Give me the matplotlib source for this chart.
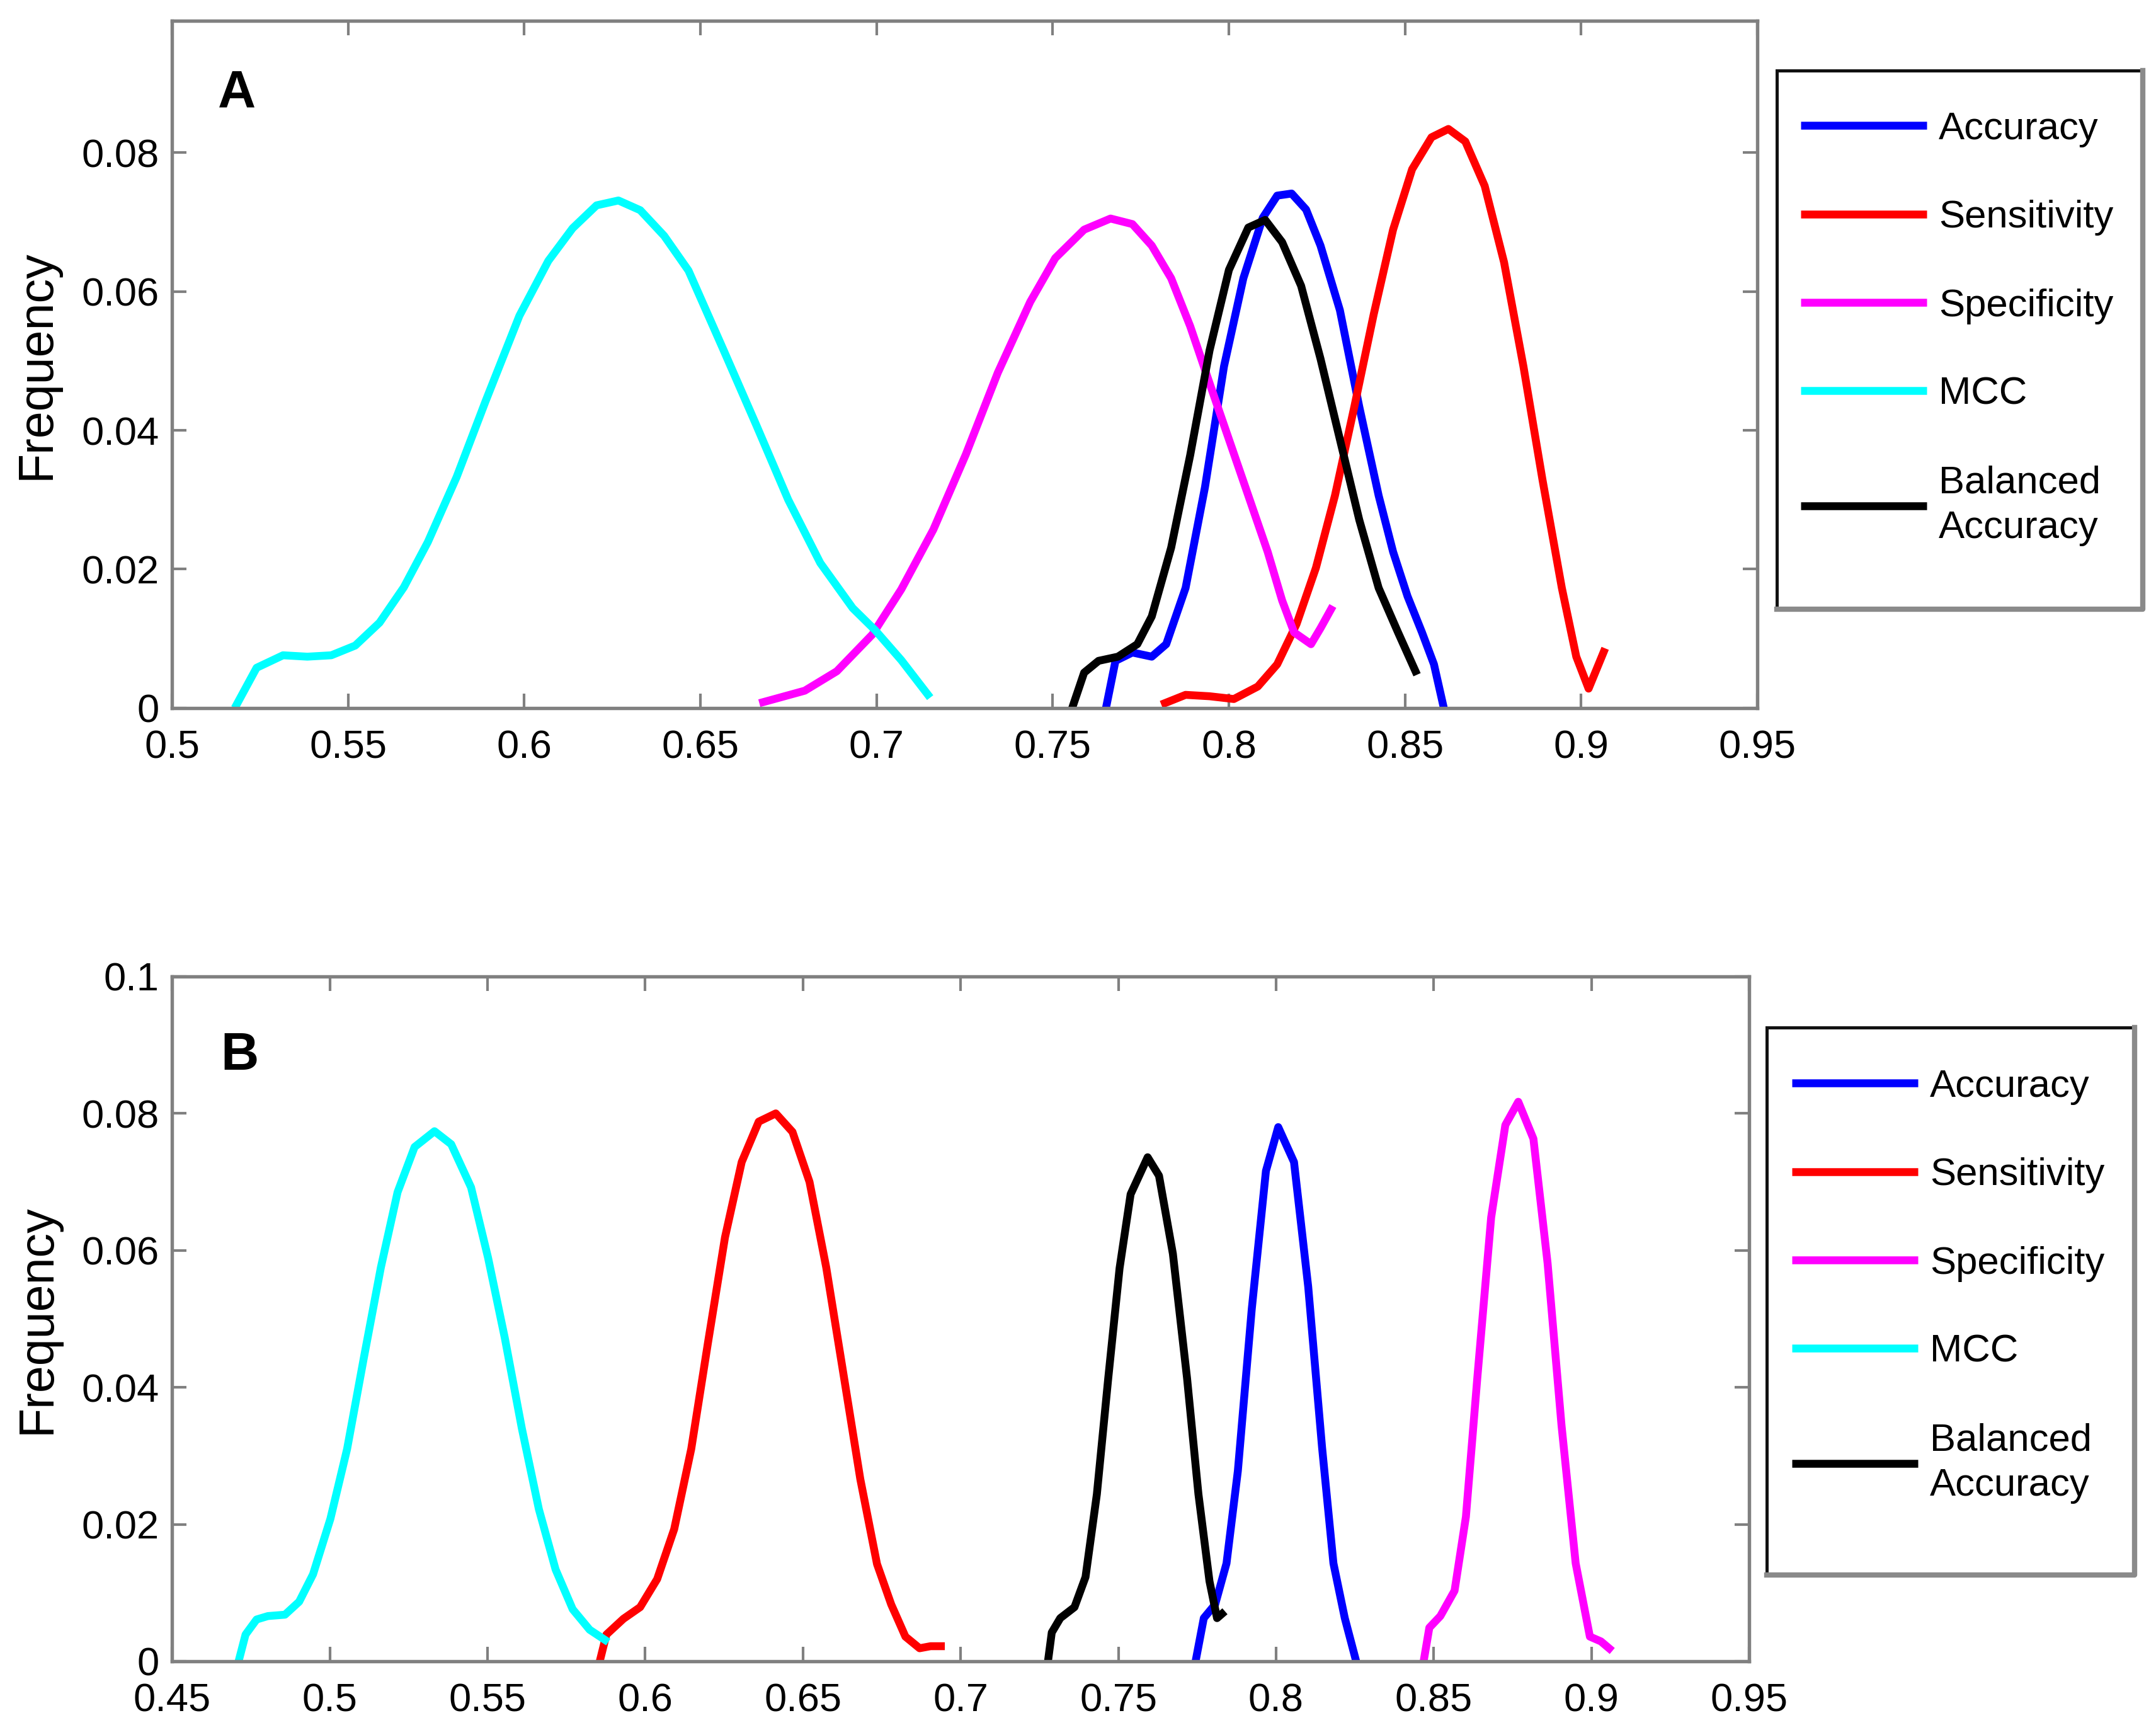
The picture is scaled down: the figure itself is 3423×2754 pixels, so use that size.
import matplotlib
matplotlib.use("Agg")
import matplotlib.pyplot as plt
from matplotlib.patches import Rectangle
from matplotlib.lines import Line2D

plt.rcParams["font.family"] = ["Liberation Sans", "DejaVu Sans"]

# ---- panel A ----
acc_a_x = [0.7651, 0.7678, 0.7726, 0.7781, 0.7822, 0.7877, 0.7932, 0.7986, 0.8041, 0.8096,
           0.8137, 0.8178, 0.8219, 0.826, 0.8315, 0.837, 0.8425, 0.8466, 0.8507, 0.8548,
           0.8582, 0.861]
acc_a_y = [0, 0.0068, 0.0080, 0.0074, 0.0092, 0.0173, 0.0318, 0.0492, 0.0619, 0.0706,
           0.0738, 0.0741, 0.0718, 0.0666, 0.0573, 0.0434, 0.0306, 0.0225, 0.0161, 0.0109,
           0.0063, 0]

sens_a_x = [0.7808, 0.7877, 0.7945, 0.8014, 0.8082, 0.8137, 0.8192, 0.8247, 0.8301, 0.8356,
            0.8411, 0.8466, 0.852, 0.8575, 0.8623, 0.8671, 0.8726, 0.8781, 0.8836, 0.889,
            0.8945, 0.8986, 0.9021, 0.9068]
sens_a_y = [0.0005, 0.0019, 0.0017, 0.0013, 0.0031, 0.0063, 0.0121, 0.0202, 0.0306, 0.0434,
            0.0567, 0.0689, 0.0776, 0.0822, 0.0834, 0.0816, 0.0752, 0.0642, 0.0492, 0.0329,
            0.0173, 0.0074, 0.0028, 0.0086]

spec_a_x = [0.6667, 0.6796, 0.6887, 0.6988, 0.707, 0.7161, 0.7253, 0.7344, 0.7436, 0.7507,
            0.7589, 0.7664, 0.7726, 0.7781, 0.7836, 0.789, 0.7945, 0.8, 0.8055, 0.811,
            0.8151, 0.8185, 0.8233, 0.826, 0.8295]
spec_a_y = [0.0007, 0.0025, 0.0053, 0.0106, 0.0171, 0.0257, 0.0365, 0.0483, 0.0585, 0.0648,
            0.0689, 0.0705, 0.0697, 0.0666, 0.0619, 0.0550, 0.0468, 0.0387, 0.0306, 0.0225,
            0.0155, 0.0109, 0.0092, 0.0115, 0.0147]

mcc_a_x = [0.5178, 0.524, 0.5315, 0.5384, 0.5452, 0.552, 0.5589, 0.5658, 0.5726, 0.5808,
           0.589, 0.5986, 0.6068, 0.6137, 0.6205, 0.6267, 0.6329, 0.6397, 0.6466, 0.6566,
           0.6658, 0.6749, 0.684, 0.6932, 0.6996, 0.707, 0.7152]
mcc_a_y = [0, 0.0058, 0.0076, 0.0074, 0.0076, 0.0090, 0.0123, 0.0174, 0.0239, 0.0333,
           0.0442, 0.0565, 0.0644, 0.0691, 0.0724, 0.0731, 0.0717, 0.0680, 0.0630, 0.0515,
           0.0408, 0.0300, 0.0209, 0.0144, 0.0112, 0.0069, 0.0015]

bacc_a_x = [0.7555, 0.7589, 0.763, 0.7685, 0.774, 0.7781, 0.7836, 0.789, 0.7945, 0.8,
            0.8055, 0.8103, 0.8151, 0.8205, 0.826, 0.8315, 0.837, 0.8425, 0.848, 0.8534]
bacc_a_y = [0, 0.0051, 0.0068, 0.0074, 0.0092, 0.0132, 0.0231, 0.0364, 0.0515, 0.0631,
            0.0692, 0.0703, 0.0671, 0.0608, 0.0503, 0.0387, 0.0271, 0.0173, 0.0109, 0.0048]

# ---- panel B ----
acc_b_x = [0.7745, 0.7771, 0.7807, 0.7843, 0.7879, 0.7923, 0.7968, 0.8007, 0.8057, 0.8102,
           0.8146, 0.8182, 0.8218, 0.8254]
acc_b_y = [0, 0.0063, 0.0083, 0.0143, 0.0278, 0.0514, 0.0716, 0.0780, 0.0729, 0.0547,
           0.0312, 0.0143, 0.0063, 0]

sens_b_x = [0.5856, 0.5877, 0.5931, 0.5984, 0.6038, 0.6092, 0.6146, 0.6199, 0.6253, 0.6306,
            0.636, 0.6414, 0.6467, 0.6521, 0.6574, 0.6628, 0.6682, 0.6735, 0.678, 0.6825,
            0.687, 0.6905, 0.695]
sens_b_y = [0, 0.0039, 0.0062, 0.0079, 0.0120, 0.0193, 0.0310, 0.0465, 0.0619, 0.0729,
            0.0788, 0.0800, 0.0773, 0.0700, 0.0575, 0.0421, 0.0266, 0.0142, 0.0083, 0.0036,
            0.0019, 0.0022, 0.0022]

spec_b_x = [0.8468, 0.8486, 0.8521, 0.8566, 0.8602, 0.8638, 0.8682, 0.8727, 0.8768, 0.8816,
            0.8861, 0.8905, 0.895, 0.8995, 0.903, 0.9066]
spec_b_y = [0, 0.0049, 0.0066, 0.0103, 0.0211, 0.0413, 0.0648, 0.0783, 0.0817, 0.0763,
            0.0581, 0.0345, 0.0143, 0.0036, 0.0029, 0.0015]

mcc_b_x = [0.4711, 0.4733, 0.4768, 0.4804, 0.4858, 0.4903, 0.4947, 0.5002, 0.5055, 0.5108,
           0.5162, 0.5215, 0.5269, 0.5332, 0.5385, 0.5448, 0.5502, 0.5555, 0.5609, 0.5663,
           0.5716, 0.577, 0.5824, 0.5883]
mcc_b_y = [0, 0.0039, 0.0061, 0.0066, 0.0068, 0.0087, 0.0127, 0.0208, 0.0310, 0.0443,
           0.0575, 0.0685, 0.0751, 0.0774, 0.0755, 0.0692, 0.0589, 0.0472, 0.0340, 0.0222,
           0.0134, 0.0076, 0.0046, 0.0028]

bacc_b_x = [0.7277, 0.7289, 0.7316, 0.7361, 0.7396, 0.7432, 0.7468, 0.7504, 0.7539, 0.7593,
            0.7629, 0.7673, 0.7718, 0.7754, 0.7789, 0.7813, 0.7838]
bacc_b_y = [0, 0.0042, 0.0063, 0.0079, 0.0123, 0.0244, 0.0413, 0.0574, 0.0682, 0.0736,
            0.0709, 0.0595, 0.0413, 0.0244, 0.0117, 0.0063, 0.0073]

labels = ["Accuracy", "Sensitivity", "Specificity", "MCC", "Balanced\nAccuracy"]
colors = ["#0000ff", "#ff0000", "#ff00ff", "#00ffff", "#000000"]

xticks_a = [0.5, 0.55, 0.6, 0.65, 0.7, 0.75, 0.8, 0.85, 0.9, 0.95]
yticks_a = [0, 0.02, 0.04, 0.06, 0.08]
xticks_b = [0.45, 0.5, 0.55, 0.6, 0.65, 0.7, 0.75, 0.8, 0.85, 0.9, 0.95]
yticks_b = [0, 0.02, 0.04, 0.06, 0.08, 0.1]

SPINE = "#808080"


def style_axes(ax, xticks, yticks, xlim, ylim):
    ax.set_xlim(*xlim)
    ax.set_ylim(*ylim)
    ax.set_xticks(xticks)
    ax.set_xticklabels([f"{t:g}" for t in xticks])
    ax.set_yticks(yticks)
    ax.set_yticklabels([f"{t:g}" for t in yticks])
    ax.tick_params(direction="in", length=5.5, width=1.0, color=SPINE,
                   top=True, right=True, labelsize=15.2)
    ax.tick_params(axis="x", pad=8)
    ax.tick_params(axis="y", pad=5)
    for s in ax.spines.values():
        s.set_color(SPINE)
        s.set_linewidth(1.3)
    ax.set_ylabel("Frequency", fontsize=18.5)
    ax.yaxis.set_label_coords(-0.071, 0.5)


def legend_frame(fig, x0, y0, x1, y1):
    # drawn under the axes, so the legend (part of the axes) sits on top of it
    fig.add_artist(Rectangle((x0, y0), x1 - x0, y1 - y0, transform=fig.transFigure,
                             facecolor="white", edgecolor="#111111", lw=1.2, zorder=-2))
    # matlab-ish grey shade on the right and bottom edges
    fig.add_artist(Line2D([x0, x1, x1], [y0, y0, y1], transform=fig.transFigure,
                          color="#8a8a8a", lw=2.0, zorder=-1.5))


def draw_panel(ax, series, letter, letter_pos, frame, legend_anchor):
    for (xs, ys), lab, c in zip(series, labels, colors):
        ax.plot(xs, ys, color=c, lw=3.0, label=lab, solid_joinstyle="round",
                solid_capstyle="butt", clip_on=False)
    ax.text(letter_pos[0], letter_pos[1], letter, transform=ax.transAxes,
            fontsize=20, fontweight="bold", ha="center", va="center")
    legend_frame(ax.figure, *frame)
    leg = ax.legend(loc="upper left", bbox_to_anchor=legend_anchor,
                    bbox_transform=ax.figure.transFigure,
                    fontsize=14.8, frameon=False,
                    handlelength=3.25, handletextpad=0.3, labelspacing=1.35,
                    borderpad=0, borderaxespad=0)
    for line in leg.get_lines():
        line.set_linewidth(3.0)
    for t in leg.get_texts():
        t.set_linespacing(1.35)


fig = plt.figure(figsize=(3423 / 300, 2754 / 300), dpi=300)

ax_a = fig.add_axes([0.0798, 0.5919, 0.7353, 0.3962])
style_axes(ax_a, xticks_a, yticks_a, (0.5, 0.95), (0, 0.099))
draw_panel(ax_a,
           [(acc_a_x, acc_a_y), (sens_a_x, sens_a_y), (spec_a_x, spec_a_y),
            (mcc_a_x, mcc_a_y), (bacc_a_x, bacc_a_y)],
           "A", (0.041, 0.894),
           (0.8241, 0.6489, 0.9939, 0.9595), (0.8352, 0.9357))

ax_b = fig.add_axes([0.0798, 0.0425, 0.7315, 0.3947])
style_axes(ax_b, xticks_b, yticks_b, (0.45, 0.95), (0, 0.1))
draw_panel(ax_b,
           [(acc_b_x, acc_b_y), (sens_b_x, sens_b_y), (spec_b_x, spec_b_y),
            (mcc_b_x, mcc_b_y), (bacc_b_x, bacc_b_y)],
           "B", (0.043, 0.884),
           (0.8195, 0.0922, 0.9901, 0.4076), (0.8311, 0.3838))

fig.savefig("out.png", dpi=300)
